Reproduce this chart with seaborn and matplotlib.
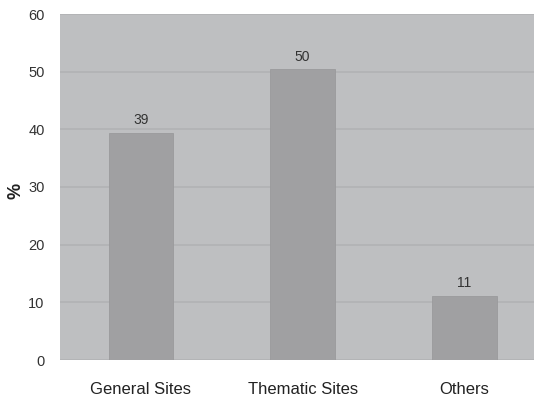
import matplotlib
matplotlib.use("Agg")
import matplotlib.pyplot as plt
import seaborn as sns
import pandas as pd

categories = ["General Sites", "Thematic Sites", "Others"]
values = [39.4, 50.4, 11.1]
value_labels = ["39", "50", "11"]
y_ticks = [0, 10, 20, 30, 40, 50, 60]

df = pd.DataFrame({"category": categories, "value": values})

sns.set_style("white")
plt.rcParams["font.family"] = ["Liberation Sans", "DejaVu Sans"]

fig = plt.figure(figsize=(5.34, 3.99), dpi=100)
ax = fig.add_axes([60 / 534, 1 - 360 / 399, 1 - 60 / 534, (360 - 14) / 399])
ax.set_facecolor("#bebfc1")

sns.barplot(data=df, x="category", y="value", color="#a0a0a2", width=0.4,
            saturation=1, ax=ax, edgecolor="#9a9a9c", linewidth=0.6, zorder=3)

for p, lab in zip(ax.patches, value_labels):
    ax.text(p.get_x() + p.get_width() / 2, p.get_height() + 1.0, lab,
            ha="center", va="bottom", fontsize=10, color="#333333", zorder=4)

ax.set_ylim(0, 60)
ax.set_xlim(-0.5, 2.43)
ax.set_yticks(y_ticks)
ax.yaxis.grid(True, color="#b1b2b4", linewidth=1.2, zorder=1)
ax.set_axisbelow(True)

ax.set_xticks([-0.5, 0.5, 1.5], minor=True)
ax.tick_params(axis="x", which="major", length=0, labelsize=12, colors="#222222", pad=16)
ax.tick_params(axis="x", which="minor", length=5, color="#d8d8d8", width=1)
ax.tick_params(axis="y", length=5, color="#d8d8d8", labelsize=10.5, colors="#333333", pad=6)

for s in ax.spines.values():
    s.set_visible(False)

ax.set_xlabel("")
ax.set_ylabel("%", fontsize=13, fontweight="bold", color="#222222")
ax.yaxis.set_label_coords(-0.074, 0.49)

fig.savefig("out.png", dpi=100)
